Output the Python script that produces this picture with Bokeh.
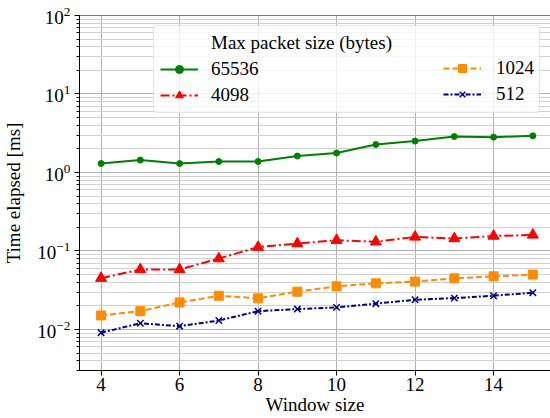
from bokeh.plotting import figure
from bokeh.models import Legend, LegendItem, FixedTicker, Span, Range1d
from bokeh.embed import file_html
from bokeh.resources import INLINE

# ---- data ----
window = [4, 5, 6, 7, 8, 9, 10, 11, 12, 13, 14, 15]
t_65536 = [1.30, 1.44, 1.30, 1.38, 1.38, 1.62, 1.77, 2.27, 2.51, 2.87, 2.82, 2.93]
t_4098 = [0.045, 0.058, 0.058, 0.080, 0.112, 0.124, 0.137, 0.131, 0.151, 0.144, 0.155, 0.160]
t_1024 = [0.0151, 0.0171, 0.0221, 0.0269, 0.0249, 0.0303, 0.0354, 0.0387, 0.0407, 0.0448, 0.0475, 0.0500]
t_512 = [0.0091, 0.0120, 0.0110, 0.0130, 0.0171, 0.0182, 0.0191, 0.0213, 0.0239, 0.0251, 0.0269, 0.0294]
series_labels = ["65536", "4098", "1024", "512"]
legend_title = "Max packet size (bytes)"
x_ticks = [4, 6, 8, 10, 12, 14]
x_limits = (3.45, 15.45)
y_limits = (3e-3, 1e2)
x_label = "Window size"
y_label = "Time elapsed [ms]"

FONT = "Liberation Serif"
FS = "19px"

p = figure(width=550, height=418, y_axis_type="log",
           x_range=Range1d(*x_limits), y_range=Range1d(*y_limits),
           output_backend="svg", toolbar_location=None,
           min_border_left=77, min_border_right=0, min_border_top=15, min_border_bottom=48)
p.outline_line_color = None
p.background_fill_color = "white"
p.border_fill_color = "white"

xa = p.xaxis[0]
ya = p.yaxis[0]
for ax in (xa, ya):
    ax.axis_line_color = "black"
    ax.axis_line_width = 1
    ax.major_tick_line_color = "black"
    ax.minor_tick_line_color = "black"
    ax.major_tick_out = 5
    ax.major_tick_in = 0
    ax.minor_tick_out = 3
    ax.minor_tick_in = 0
    ax.major_label_text_font = FONT
    ax.major_label_text_font_size = FS
    ax.major_label_text_color = "black"
    ax.axis_label_text_font = FONT
    ax.axis_label_text_font_size = FS
    ax.axis_label_text_font_style = "normal"
    ax.axis_label_text_color = "black"
xa.ticker = FixedTicker(ticks=x_ticks)
xa.minor_tick_line_color = None
xa.major_label_standoff = 2
xa.axis_label_standoff = 0
ya.major_label_standoff = 4
ya.axis_label_standoff = 10
xa.axis_label = x_label
ya.axis_label = y_label

p.xgrid.grid_line_color = "#b0b0b0"
p.ygrid.grid_line_color = "#b0b0b0"
p.ygrid.minor_grid_line_color = "#d0d0d0"

l1 = p.line(window, t_65536, line_color="green", line_width=2)
s1 = p.scatter(window, t_65536, marker="circle", size=6, color="green")
l2 = p.line(window, t_4098, line_color="red", line_width=2, line_dash="9 3 2 3")
s2 = p.scatter(window, t_4098, marker="triangle", size=11, color="red")
l3 = p.line(window, t_1024, line_color="darkorange", line_width=2, line_dash="6 3")
s3 = p.scatter(window, t_1024, marker="square", size=9, color="darkorange")
l4 = p.line(window, t_512, line_color="navy", line_width=2, line_dash="5 2 2 2")
s4 = p.scatter(window, t_512, marker="x", size=9, line_color="navy", line_width=1.5)
dummy = p.line(x=[], y=[], line_alpha=0)

p.add_layout(Span(location=y_limits[1], dimension="width", line_color="black", line_width=1))

def style_legend(lg):
    lg.location = "top_right"
    lg.margin = 10
    lg.padding = 6
    lg.spacing = 4
    lg.glyph_width = 38
    lg.glyph_height = 20
    lg.label_height = 20
    lg.label_text_font = FONT
    lg.label_text_font_size = FS
    lg.label_text_color = "black"

leg1 = Legend(items=[LegendItem(label=legend_title, renderers=[dummy]),
                     LegendItem(label=series_labels[0], renderers=[l1, s1]),
                     LegendItem(label=series_labels[1], renderers=[l2, s2])])
style_legend(leg1)
leg1.label_standoff = 13
leg1.label_width = 322
leg1.background_fill_color = "white"
leg1.background_fill_alpha = 0.8
leg1.border_line_color = "#cccccc"
leg1.border_line_width = 1
try:
    leg1.border_radius = 4
except Exception:
    pass

leg2 = Legend(items=[LegendItem(label="\u00a0", renderers=[dummy]),
                     LegendItem(label=series_labels[2], renderers=[l3, s3]),
                     LegendItem(label=series_labels[3], renderers=[l4, s4])])
style_legend(leg2)
leg2.label_standoff = 15
leg2.background_fill_alpha = 0
leg2.border_line_alpha = 0

p.add_layout(leg1, "center")
p.add_layout(leg2, "center")

open("out.html", "w").write(file_html(p, INLINE))
